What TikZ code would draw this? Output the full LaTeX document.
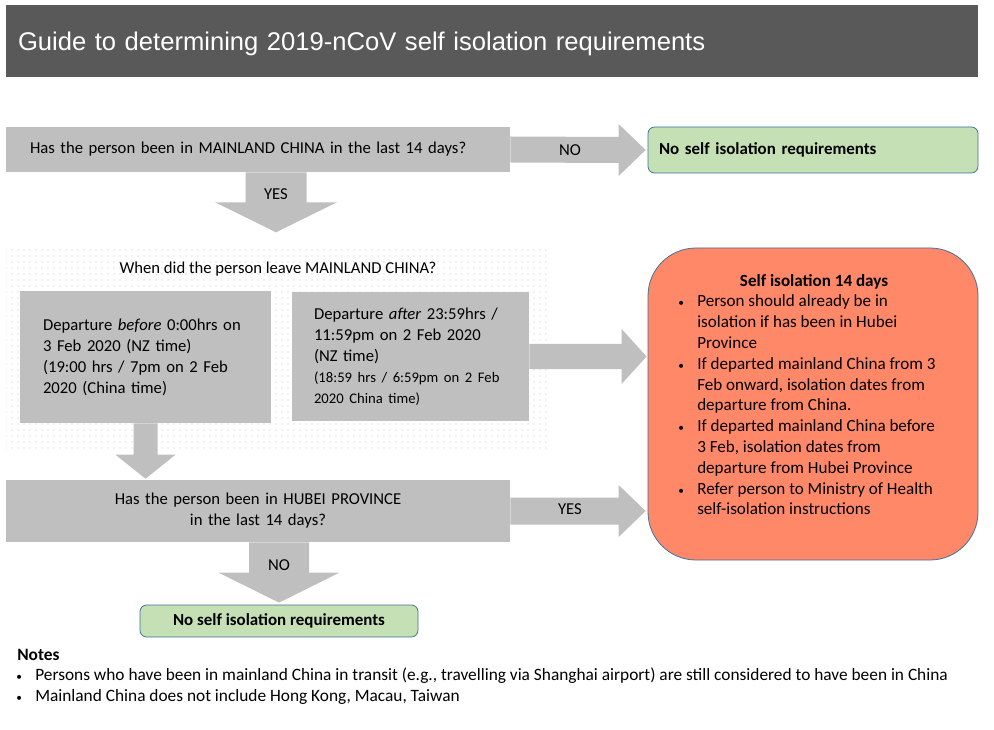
\documentclass[tikz,border=0pt]{standalone}
\usepackage{fontspec}
\setmainfont{Carlito}
\newfontfamily\titlefont{Liberation Sans}
\usetikzlibrary{positioning,calc,patterns.meta}
\definecolor{titlegrey}{RGB}{89,89,89}
\definecolor{boxgrey}{RGB}{191,191,191}
\definecolor{okgreen}{RGB}{197,224,180}
\definecolor{isored}{RGB}{255,136,105}
\definecolor{edgeblue}{RGB}{65,113,156}

\begin{document}
\begin{tikzpicture}[
  x=0.75pt, y=-0.75pt,
  qbox/.style={fill=boxgrey, inner ysep=0pt, inner xsep=18pt, minimum width=378pt,
    font=\fontsize{12.5}{15.75}\selectfont},
  depbox/.style={fill=boxgrey, inner ysep=0pt, align=left,
    font=\fontsize{12.5}{15.75}\selectfont},
  okbox/.style={draw=edgeblue, fill=okgreen, rounded corners=5pt, line width=0.6pt,
    font=\fontsize{12.7}{14}\selectfont\bfseries, inner ysep=0pt},
  arrowlbl/.style={font=\fontsize{12.5}{14}\selectfont, inner sep=0pt},
  shaft/.style={fill=boxgrey},
]
  \useasboundingbox (0,0) rectangle (994,730);
  \fill[white] (0,0) rectangle (994,730);

  % Title bar
  \node[fill=titlegrey, text=white, minimum width=729pt, minimum height=54pt,
    inner xsep=9pt, text width=711pt, align=left, text depth=0pt,
    font=\titlefont\fontsize{19.2}{22}\selectfont] (title) at (492,41)
    {Guide to determining 2019-nCoV self isolation requirements};

  % First question
  \node[qbox, minimum height=33.75pt, text width=342pt, align=left] (q1) at (258,149.5)
    {Has the person been in MAINLAND CHINA in the last 14 days?};
  \node[okbox, minimum width=247.5pt, minimum height=34.5pt, inner xsep=8.25pt,
    text width=231pt, align=left] (nogo1) at (813,150)
    {No self isolation requirements};

  % Departure block
  \fill[pattern={Dots[distance=4.5pt, radius=0.45pt]}, pattern color=gray!45]
    (6,249) rectangle (550,448);
  \node[font=\fontsize{12.5}{14}\selectfont] (leave) at (278,269)
    {When did the person leave MAINLAND CHINA?};
  \node[depbox, minimum width=188.25pt, minimum height=99pt, inner xsep=17.25pt,
    text width=153.75pt] (lbox) at (145.5,357)
    {Departure \textit{before} 0:00hrs on\\ 3 Feb 2020 (NZ time)\\
     (19:00 hrs / 7pm on 2 Feb\\ 2020 (China time)};
  \node[depbox, minimum width=177.75pt, minimum height=96.75pt, inner xsep=16.5pt,
    text width=144.75pt] (rbox) at (410.5,356.5)
    {Departure \textit{after} 23:59hrs /\\ 11:59pm on 2 Feb 2020\\ (NZ time)\\
     \fontsize{11}{15.75}\selectfont (18:59 hrs / 6:59pm on 2 Feb\\ 2020 China time)};

  % Hubei question
  \node[qbox, minimum height=46.5pt, text width=342pt, align=center] (q2) at (258,511)
    {Has the person been in HUBEI PROVINCE\\ in the last 14 days?};
  \node[okbox, minimum width=208.5pt, minimum height=24pt, align=center] (nogo2) at (279,621)
    {No self isolation requirements};

  % Self isolation box
  \node[draw=edgeblue, fill=isored, rounded corners=36pt, line width=0.6pt,
    minimum width=247.5pt, minimum height=234pt] (iso) at (813,404) {};
  \node[font=\fontsize{12.8}{14}\selectfont\bfseries, inner sep=0pt] (isohead) at (814,282)
    {Self isolation 14 days};
  \node[anchor=north west, inner sep=0pt, font=\fontsize{12.8}{15.6}\selectfont]
    (isolist) at (678,292)
    {\begin{tabular}{@{}p{14.25pt}@{}l@{}}
      {\fontsize{8.5}{8}\selectfont\textbullet} & Person should already be in\\
                  & isolation if has been in Hubei\\
                  & Province\\
      {\fontsize{8.5}{8}\selectfont\textbullet} & If departed mainland China from 3\\
                  & Feb onward, isolation dates from\\
                  & departure from China.\\
      {\fontsize{8.5}{8}\selectfont\textbullet} & If departed mainland China before\\
                  & 3 Feb, isolation dates from\\
                  & departure from Hubei Province\\
      {\fontsize{8.5}{8}\selectfont\textbullet} & Refer person to Ministry of Health\\
                  & self-isolation instructions
    \end{tabular}};

  % Block arrows
  \coordinate (yestip) at ($(q1.south)+(18,60)$);
  % q1 -> nogo1
  \fill[shaft] ($(q1.east)+(0,-13)$) -- ($(nogo1.west)+(-29,-13)$)
    -- ($(nogo1.west)+(-29,-26)$) -- ($(nogo1.west)+(-2,0)$)
    -- ($(nogo1.west)+(-29,26)$) -- ($(nogo1.west)+(-29,13)$)
    -- ($(q1.east)+(0,13)$) -- cycle;
  \node[arrowlbl] (no1) at (570,150) {NO};
  % q1 -> yes
  \fill[shaft] ($(q1.south)+(-12.5,0)$) -- ($(yestip)+(-30.5,-30)$)
    -- ($(yestip)+(-61,-30)$) -- (yestip) -- ($(yestip)+(61,-30)$)
    -- ($(yestip)+(30.5,-30)$) -- ($(q1.south)+(48.5,0)$) -- cycle;
  \node[arrowlbl] (yes1) at (276,194) {YES};
  % rbox -> iso
  \fill[shaft] ($(rbox.east)+(0,-12.5)$) -- ($(iso.west |- rbox.east)+(-26,-12.5)$)
    -- ($(iso.west |- rbox.east)+(-26,-27.5)$) -- ($(iso.west |- rbox.east)+(-1,0)$)
    -- ($(iso.west |- rbox.east)+(-26,27.5)$) -- ($(iso.west |- rbox.east)+(-26,12.5)$)
    -- ($(rbox.east)+(0,12.5)$) -- cycle;
  % lbox -> q2
  \fill[shaft] ($(lbox.south)+(-12,0)$) -- ($(q2.north -| lbox.south)+(-12,-25)$)
    -- ($(q2.north -| lbox.south)+(-30,-25)$) -- ($(q2.north -| lbox.south)+(0,-1)$)
    -- ($(q2.north -| lbox.south)+(30,-25)$) -- ($(q2.north -| lbox.south)+(12,-25)$)
    -- ($(lbox.south)+(12,0)$) -- cycle;
  % q2 -> iso
  \fill[shaft] ($(q2.east)+(0,-13.5)$) -- ($(iso.west |- q2.east)+(-29,-13.5)$)
    -- ($(iso.west |- q2.east)+(-29,-26)$) -- ($(iso.west |- q2.east)+(-2,0)$)
    -- ($(iso.west |- q2.east)+(-29,26)$) -- ($(iso.west |- q2.east)+(-29,13.5)$)
    -- ($(q2.east)+(0,13.5)$) -- cycle;
  \node[arrowlbl] (yes2) at (570,509) {YES};
  % q2 -> nogo2
  \fill[shaft] ($(nogo2.north |- q2.south)+(-30,0)$) -- ($(nogo2.north)+(-30,-32)$)
    -- ($(nogo2.north)+(-60.5,-32)$) -- ($(nogo2.north)+(0,-2)$)
    -- ($(nogo2.north)+(60.5,-32)$) -- ($(nogo2.north)+(30,-32)$)
    -- ($(nogo2.north |- q2.south)+(30,0)$) -- cycle;
  \node[arrowlbl] (no2) at (279,565) {NO};

  % Notes
  \node[anchor=west, inner sep=0pt, font=\fontsize{13}{14}\selectfont\bfseries]
    (noteshead) at (17,655) {Notes};
  \node[anchor=north west, inner sep=0pt, font=\fontsize{13}{15.9}\selectfont]
    (notes) at (16,665)
    {\begin{tabular}{@{}p{14.25pt}@{}l@{}}
      {\fontsize{8.5}{8}\selectfont\textbullet} & Persons who have been in mainland China in transit (e.g., travelling via Shanghai airport) are still considered to have been in China\\
      {\fontsize{8.5}{8}\selectfont\textbullet} & Mainland China does not include Hong Kong, Macau, Taiwan
    \end{tabular}};
\end{tikzpicture}
\end{document}
